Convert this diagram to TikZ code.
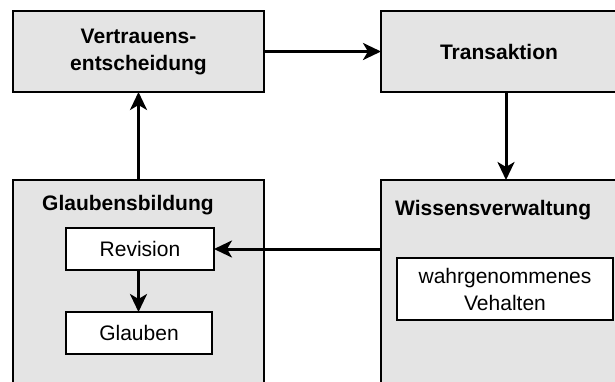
\documentclass[tikz,border=0pt]{standalone}
\usepackage{fontspec}
\setmainfont{Liberation Sans}
\usetikzlibrary{arrows.meta}
\definecolor{panelgray}{RGB}{228,228,228}
\tikzset{
  panel/.style={draw=black, fill=panelgray, line width=2.6pt, inner sep=0pt, outer sep=0pt},
  itembox/.style={draw=black, fill=white, line width=2.4pt, inner sep=0pt, outer sep=0pt},
  heading/.style={font=\fontsize{21}{27}\selectfont\bfseries, align=center, inner sep=0pt},
  plain/.style={font=\fontsize{21}{27}\selectfont, align=center, inner sep=0pt},
  flow/.style={line width=3pt, -{Stealth[length=18pt,width=17pt,inset=5pt]}},
}
\begin{document}
\begin{tikzpicture}[x=1pt,y=-1pt]
  \useasboundingbox (0,0) rectangle (615,381);
  \clip (0,0) rectangle (615,381);

  % upper row
  \node[panel, heading, minimum width=251pt, minimum height=81pt] (vt) at (138.5,51.5) {Vertrauens-\\entscheidung};
  \node[panel, heading, minimum width=236pt, minimum height=81pt] (ta) at (499,51.5) {Transaktion};

  % lower row (running off the page edges)
  \node[panel, minimum width=251pt, minimum height=220pt] (gb) at (138.5,290) {};
  \node[heading, anchor=base west] (gbtitle) at (42,210) {Glaubensbildung};
  \node[panel, minimum width=236pt, minimum height=220pt] (wv) at (499,290) {};
  \node[heading, anchor=base west] (wvtitle) at (395,215) {Wissensverwaltung};

  % inner boxes
  \node[itembox, plain, minimum width=148pt, minimum height=42pt] (rev) at (140,249) {Revision};
  \node[itembox, plain, minimum width=146pt, minimum height=42pt] (gl) at (139,333) {Glauben};
  \node[itembox, plain, minimum width=216pt, minimum height=62pt] (wb) at (505,289) {wahrgenommenes\\Vehalten};

  % connectors
  \coordinate (drop) at (506,0);
  \draw[flow] (vt.east) -- (ta.west);
  \draw[flow] (drop |- ta.south) -- (drop |- wv.north);
  \draw[flow] (wv.west |- rev.east) -- (rev.east);
  \draw[flow] (gb.north) -- (vt.south);
  \draw[flow] (rev.south -| gb.north) -- (gl.north -| gb.north);
\end{tikzpicture}
\end{document}
